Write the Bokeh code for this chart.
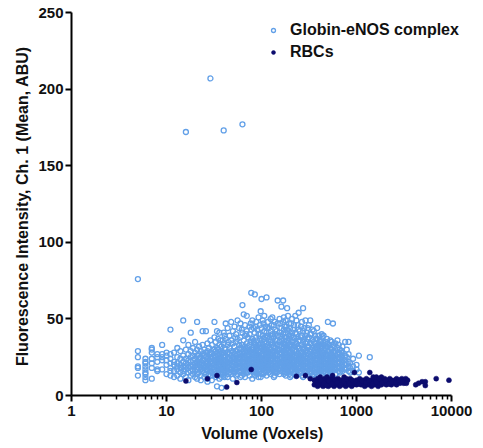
from bokeh.plotting import figure
from bokeh.models import (Range1d, FixedTicker, PrintfTickFormatter, Legend, LegendItem)
from bokeh.embed import file_html
from bokeh.resources import INLINE

# ---------------- data ----------------
x_ticks = [1, 10, 100, 1000, 10000]
y_ticks = [0, 50, 100, 150, 200, 250]

globin_volume = [5, 6, 7, 8, 9, 10, 11, 12, 13, 14, 15, 16, 17, 18, 19, 20, 21, 22, 23, 24,
                 25, 26, 27, 28, 29, 30, 32, 33, 34, 35, 36, 37, 38, 40, 42, 44, 46, 48, 50, 52,
                 54, 56, 58, 60, 63, 65, 67, 70, 72, 75, 78, 80, 83, 85, 88, 90, 93, 96, 100, 103,
                 107, 110, 113, 117, 120, 125, 130, 135, 140, 148, 155, 162, 169, 175, 180, 186, 190, 195, 200, 210,
                 220, 233, 246, 260, 274, 290, 305, 326, 345, 365, 385, 410, 430, 450, 475, 500, 530, 565, 600, 630,
                 670, 710, 760, 825, 860, 920, 1000, 1060, 1380,
                 31, 39, 41, 45, 53, 62, 69, 77, 87, 98, 105, 115, 128, 138, 145, 158, 172, 183, 205, 215,
                 227, 240, 253, 267, 282, 298, 315, 335, 355, 375, 398, 420, 440, 462, 488, 515, 548, 580, 650, 690,
                 790]
globin_intensity = [
    [29, 25, 19, 18, 13, 76], [24, 22, 21, 19, 17, 15, 14, 12, 10], [31, 30, 28, 24, 21, 18, 11],
    [27, 25, 22, 17, 16], [33, 27, 25, 23, 17], [28, 26, 23, 20, 14], [43, 27, 24, 21, 18, 16, 13],
    [28, 22, 20, 16, 12], [31, 25, 21, 17, 13, 19], [29, 24, 20, 18, 15, 11], [49, 36, 26, 22, 19, 16, 14],
    [172, 30, 24, 21, 19, 17, 12], [33, 27, 23, 20, 18, 15, 10], [41, 29, 25, 22, 19, 16, 13],
    [31, 26, 23, 20, 17, 14], [35, 28, 24, 21, 19, 16, 12], [48, 30, 26, 22, 20, 17, 14, 11],
    [32, 27, 24, 21, 18, 15], [29, 25, 22, 20, 17, 13, 10], [42, 33, 27, 23, 21, 19, 16],
    [30, 26, 23, 20, 18, 15, 12], [42, 28, 25, 22, 19, 17, 14], [34, 29, 24, 21, 19, 16, 11, 9],
    [31, 27, 23, 20, 18, 14], [207, 36, 28, 25, 22, 19, 16, 13], [33, 27, 24, 21, 18, 15, 10],
    [48, 38, 30, 26, 23, 20, 17, 14], [35, 29, 25, 22, 19, 16, 12], [42, 31, 27, 24, 21, 18, 15, 6],
    [37, 30, 26, 23, 20, 17, 13], [41, 33, 28, 24, 22, 19, 16, 11], [36, 29, 25, 22, 20, 17, 14],
    [5, 32, 27, 24, 21, 18, 15, 12], [173, 41, 34, 28, 25, 22, 19, 16, 13], [47, 37, 30, 26, 23, 20, 18, 15],
    [44, 33, 28, 25, 22, 19, 16, 12], [39, 31, 27, 24, 21, 18, 15], [48, 36, 29, 26, 23, 20, 17, 14],
    [42, 34, 28, 25, 22, 19, 16, 11], [45, 32, 27, 24, 21, 18, 15], [40, 35, 29, 26, 23, 20, 17, 13],
    [49, 37, 30, 27, 24, 21, 18, 14], [44, 33, 28, 25, 22, 19, 16], [47, 38, 31, 27, 24, 21, 18, 15, 12],
    [177, 59, 41, 33, 28, 25, 22, 19, 16], [53, 36, 30, 27, 24, 21, 18, 14], [46, 39, 32, 28, 25, 22, 19, 16, 12],
    [52, 42, 34, 29, 26, 23, 20, 17], [38, 31, 27, 24, 21, 18, 15], [45, 40, 33, 29, 26, 23, 20, 17, 13],
    [67, 43, 36, 30, 27, 24, 21, 18], [49, 37, 31, 28, 25, 22, 19, 16, 11], [44, 35, 30, 27, 24, 21, 18, 15],
    [66, 41, 34, 29, 26, 23, 20, 17, 13], [48, 38, 32, 28, 25, 22, 19, 16], [43, 36, 31, 27, 24, 21, 18, 14],
    [51, 40, 33, 29, 26, 23, 20, 17, 12], [46, 37, 32, 28, 25, 22, 19, 16], [63, 44, 36, 31, 27, 24, 21, 18, 14],
    [49, 39, 33, 29, 26, 23, 20, 17], [52, 42, 35, 30, 27, 24, 21, 18, 15], [45, 38, 32, 28, 25, 22, 19, 16],
    [64, 41, 34, 30, 27, 24, 21, 18, 13], [48, 39, 33, 29, 26, 23, 20, 17], [44, 37, 31, 28, 25, 22, 19, 15],
    [50, 42, 35, 30, 27, 24, 21, 18, 14], [51, 40, 34, 29, 26, 23, 20, 17], [46, 38, 32, 28, 25, 22, 19, 16, 12],
    [43, 36, 31, 27, 24, 21, 18, 15], [62, 47, 39, 33, 29, 26, 23, 20, 17], [50, 41, 35, 30, 27, 24, 21, 18, 14],
    [58, 44, 37, 32, 28, 25, 22, 19], [62, 48, 40, 34, 29, 26, 23, 20, 16], [45, 38, 33, 28, 25, 22, 19, 15],
    [49, 41, 35, 30, 27, 24, 21, 18, 13], [57, 43, 36, 31, 27, 24, 21, 17], [52, 40, 34, 29, 26, 23, 20, 16],
    [47, 39, 33, 28, 25, 22, 19, 14], [44, 37, 32, 28, 25, 22, 19, 16, 12], [50, 41, 35, 30, 26, 23, 20, 17],
    [46, 38, 33, 29, 25, 22, 19, 15], [49, 40, 34, 29, 26, 23, 20, 17, 13], [54, 43, 36, 31, 27, 24, 21, 18],
    [45, 38, 33, 28, 25, 22, 19, 15], [57, 42, 35, 30, 26, 23, 20, 17, 12], [49, 39, 34, 29, 25, 22, 19, 16],
    [44, 37, 32, 28, 24, 21, 18, 14], [49, 40, 34, 29, 25, 22, 19, 16], [43, 36, 31, 27, 23, 20, 17, 13],
    [39, 34, 30, 26, 23, 20, 17, 15], [44, 37, 31, 27, 24, 21, 18, 14], [36, 32, 28, 25, 22, 19, 16],
    [40, 34, 29, 26, 23, 20, 17, 13], [39, 33, 28, 25, 22, 19, 16], [35, 31, 27, 24, 21, 18, 15],
    [48, 34, 29, 26, 23, 20, 17, 14], [36, 31, 27, 24, 21, 18, 15], [47, 33, 28, 25, 22, 19, 16],
    [34, 29, 26, 23, 20, 17, 14], [36, 31, 27, 24, 21, 18], [30, 27, 24, 21, 18, 15],
    [32, 28, 25, 22, 19, 16], [35, 26, 23, 20, 17], [35, 27, 22, 19, 16], [21, 18, 15],
    [24, 19, 16], [20, 17], [26, 15], [25],
    [30, 25, 21, 17, 13], [36, 28, 23, 18, 14], [39, 31, 26, 21, 17, 12], [35, 24, 20, 14],
    [38, 29, 22, 17], [43, 33, 26, 20, 13], [40, 30, 23, 19, 15], [47, 35, 28, 22, 16],
    [45, 33, 27, 21, 15], [55, 40, 34, 29, 23, 20, 17, 12], [47, 37, 31, 26, 22, 19, 14],
    [44, 38, 32, 27, 23, 20, 16], [46, 39, 33, 28, 23, 20, 16], [48, 40, 34, 29, 24, 21, 17, 13],
    [42, 36, 30, 26, 23, 19, 15], [47, 39, 33, 28, 24, 20, 16], [51, 43, 36, 31, 27, 24, 20, 17, 14],
    [45, 38, 32, 27, 23, 19, 15], [47, 39, 33, 28, 24, 20, 16, 13], [43, 36, 31, 27, 23, 20, 17],
    [52, 41, 35, 30, 26, 22, 18, 14], [46, 38, 32, 27, 23, 20, 16], [42, 36, 31, 26, 23, 19, 15],
    [48, 39, 33, 28, 24, 21, 17, 13], [44, 37, 31, 27, 23, 20, 16], [41, 35, 30, 26, 22, 19, 15],
    [46, 38, 32, 27, 23, 20, 17, 13], [40, 34, 30, 26, 22, 19, 15], [42, 35, 29, 25, 21, 18, 14],
    [37, 32, 28, 24, 21, 18, 15], [39, 33, 29, 25, 21, 18, 14], [35, 31, 27, 23, 20, 17],
    [38, 32, 28, 24, 21, 18, 15], [34, 30, 26, 22, 19, 16], [37, 32, 27, 23, 20, 17],
    [33, 29, 25, 22, 19, 16], [35, 30, 26, 22, 19, 16], [32, 28, 24, 21, 18],
    [33, 28, 25, 22, 19, 16], [29, 26, 23, 20, 17], [30, 25, 21, 18],
]

rbc_volume = [16, 27, 34, 43, 55, 78, 233, 290, 326,
              360, 375, 390, 400, 415, 430, 445, 460, 475, 490, 505, 520, 540, 560, 580, 600,
              620, 640, 665, 690, 715, 740, 770, 800, 830, 860, 890, 920, 950, 1000, 1040,
              1080, 1120, 1170, 1220, 1270, 1320, 1380, 1440, 1500, 1560, 1620, 1690, 1760, 1830, 1900,
              1980, 2060, 2150, 2240, 2330, 2430, 2530, 2640, 2750, 2870, 3000, 3150, 3300, 3450,
              4200, 4500, 4900, 5300, 6900, 9400,
              370, 395, 420, 455, 485, 515, 550, 590, 630, 680, 730, 785, 845, 905, 980,
              1060, 1150, 1250, 1350, 1470, 1600, 1730, 1870, 2020, 2200, 2380, 2580, 2800, 3050, 3350]
rbc_intensity = [
    [9.5], [11], [13], [5.5], [8.5], [17], [12.5], [13], [11],
    [7, 10], [8], [6, 11], [9], [7, 12], [8, 10], [6], [9, 11], [7], [8, 12], [6, 10], [9], [7, 11],
    [8, 13], [6, 9], [10], [7, 8], [9, 11], [6], [8, 10], [7], [9, 12], [6, 8], [10], [7, 9], [8, 11],
    [6], [9, 7], [15, 8], [10, 7], [8], [9, 11], [7], [8, 10], [6, 9], [11], [7, 9], [15, 8], [10, 6],
    [9, 12], [7, 11], [8, 10, 12], [6, 9], [11, 8], [7, 12], [9, 10], [8, 11], [7], [10, 9], [8, 11],
    [7, 10], [9], [8, 10], [7, 11], [9], [8, 10], [11, 9], [8, 10], [9, 11], [10],
    [7], [8], [9], [6.5, 9], [11], [10],
    [9], [7.5], [10], [8], [6.5], [9.5], [7.5], [10.5], [8.5], [7], [9.5], [11], [8], [10], [9],
    [7.5], [9.5], [8.5], [10], [7.5], [9], [11], [8.5], [10], [7.5], [9], [8.5], [10], [9], [8],
]

series_labels = ["Globin-eNOS complex", "RBCs"]
x_title = "Volume (Voxels)"
y_title = "Fluorescence Intensity,  Ch. 1 (Mean, ABU)"


def flatten(volumes, groups):
    xs, ys = [], []
    for v, g in zip(volumes, groups):
        for val in g:
            xs.append(v)
            ys.append(val)
    return xs, ys


gx, gy = flatten(globin_volume, globin_intensity)
rx, ry = flatten(rbc_volume, rbc_intensity)

# ---------------- figure ----------------
FONT = "Liberation Sans"
W, H = 483, 448
LEFT, RIGHT, TOP, BOTTOM = 71, 8, 12, 53
AXIS_END_PX = 451  # where 10000 sits on the page
frame_w = W - LEFT - RIGHT
x_end = 10 ** (4 * frame_w / (AXIS_END_PX - LEFT))  # frame extends past the axis end so the legend fits

p = figure(width=W, height=H, x_axis_type="log", output_backend="svg", toolbar_location=None,
           x_range=Range1d(1, x_end), y_range=Range1d(0, 250),
           min_border_left=LEFT, min_border_right=RIGHT, min_border_top=TOP, min_border_bottom=BOTTOM)
p.outline_line_color = None
p.grid.visible = False
p.background_fill_color = "white"
p.border_fill_color = "white"

r1 = p.scatter(gx, gy, marker="circle", size=5, fill_alpha=0, line_color="#62a0e8", line_width=1.3)
r2 = p.scatter(rx, ry, marker="circle", size=5, fill_color="#0c0c6e", line_color="#0c0c6e", line_width=0.5)

minor = []
for d in [1, 10, 100, 1000]:
    for m in range(2, 10):
        minor.append(d * m)
p.xaxis.ticker = FixedTicker(ticks=x_ticks, minor_ticks=minor)
p.xaxis.formatter = PrintfTickFormatter(format="%d")
p.xaxis.bounds = (x_ticks[0], x_ticks[-1])
p.yaxis.ticker = FixedTicker(ticks=y_ticks, minor_ticks=[])

for ax in (p.xaxis[0], p.yaxis[0]):
    ax.axis_line_width = 2
    ax.axis_line_color = "black"
    ax.major_tick_line_width = 2
    ax.major_tick_line_color = "black"
    ax.minor_tick_line_width = 1.5
    ax.minor_tick_line_color = "black"
    ax.major_tick_in = 0
    ax.major_tick_out = 6
    ax.minor_tick_in = 0
    ax.minor_tick_out = 4
    ax.major_label_text_font = FONT
    ax.major_label_text_font_style = "bold"
    ax.major_label_text_font_size = "15px"
    ax.major_label_text_color = "#111111"
    ax.axis_label_text_font = FONT
    ax.axis_label_text_font_style = "bold"
    ax.axis_label_text_font_size = "16px"
    ax.axis_label_text_color = "#111111"

# the axis title is centred on the (wider) frame; trailing no-break spaces move it back under 1..10000
p.xaxis.axis_label = x_title + "\u00a0" * 5
p.yaxis.axis_label = y_title
p.xaxis.major_label_standoff = 4
p.xaxis.axis_label_standoff = 6
p.yaxis.major_label_standoff = 2
p.yaxis.axis_label_standoff = 4

legend = Legend(items=[LegendItem(label=series_labels[0], renderers=[r1]),
                       LegendItem(label=series_labels[1], renderers=[r2])],
                location=(197, 334), glyph_width=10, glyph_height=14, label_standoff=12,
                padding=0, margin=0, spacing=4, border_line_color=None, background_fill_alpha=0,
                label_text_font=FONT, label_text_font_style="bold", label_text_font_size="16px",
                label_text_color="#111111")
p.add_layout(legend)

open("out.html", "w").write(file_html(p, INLINE))
